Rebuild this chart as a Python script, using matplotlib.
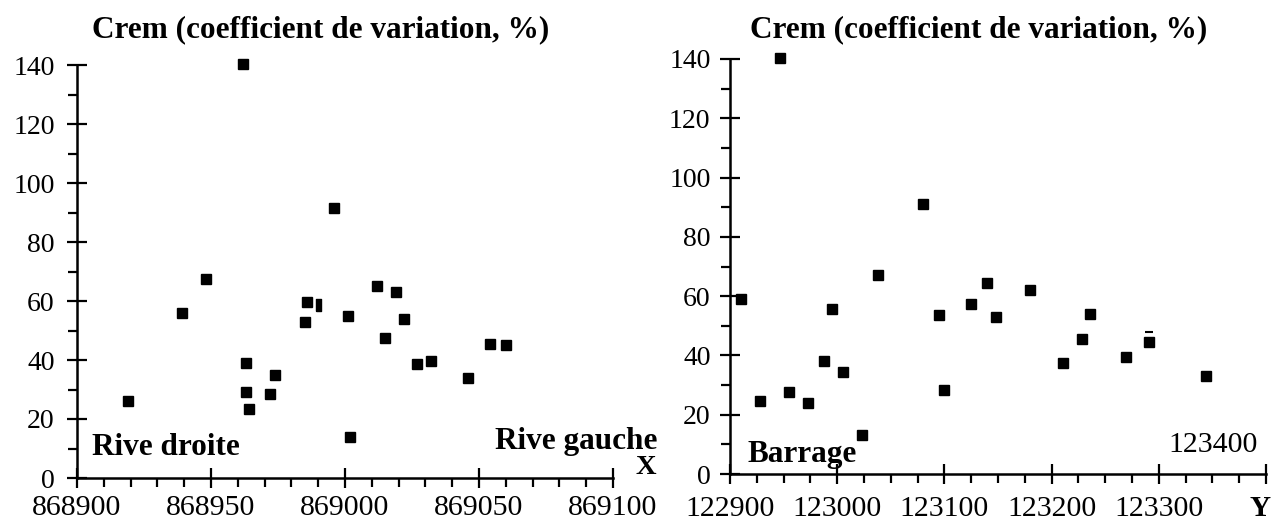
import numpy as np
import matplotlib
matplotlib.use("Agg")
import matplotlib.pyplot as plt
from matplotlib.ticker import MultipleLocator

plt.rcParams['font.family'] = ['Liberation Serif', 'DejaVu Serif']

# left panel: Crem vs X
x_left = [868919, 868939, 868948, 868962, 868963, 868963, 868964, 868972, 868974,
          868985, 868986, 868996, 869001, 869002, 869012, 869015, 869019, 869022,
          869027, 869032, 869046, 869054, 869060]
crem_left = [26, 56, 67.5, 140.5, 39, 29, 23.5, 28.5, 35,
             53, 59.5, 91.5, 55, 14, 65, 47.5, 63, 54,
             38.5, 39.5, 34, 45.5, 45]
# half-printed marker in the scan
x_left_partial = [868990]
crem_left_partial = [58.5]

# right panel: Crem vs Y
x_right = [122910, 122928, 122947, 122955, 122973, 122988, 122995, 123005, 123023,
           123038, 123080, 123095, 123100, 123125, 123140, 123148, 123180, 123211,
           123228, 123236, 123269, 123291, 123344]
crem_right = [59, 24.5, 140.5, 27.5, 24, 38, 55.5, 34.5, 13,
              67, 91, 53.5, 28.5, 57.5, 64.5, 53, 62, 37.5,
              45.5, 54, 39.5, 44.5, 33]
x_right_dash = [123291]
crem_right_dash = [48]

left_ticks = [868900, 868950, 869000, 869050, 869100]
right_ticks = [122900, 123000, 123100, 123200, 123300]
y_ticks = [0, 20, 40, 60, 80, 100, 120, 140]

title = "Crem (coefficient de variation, %)"

W, H = 1274, 524
fig = plt.figure(figsize=(W / 100, H / 100), dpi=100)


def setup_axis(ax, xmin, xmax, xminor, xpad, ypad):
    for side in ['top', 'right']:
        ax.spines[side].set_visible(False)
    for side in ['left', 'bottom']:
        ax.spines[side].set_linewidth(1.8)
    ax.set_xlim(xmin, xmax)
    ax.set_ylim(0, 140)
    ax.set_yticks(y_ticks)
    ax.yaxis.set_minor_locator(MultipleLocator(10))
    ax.xaxis.set_minor_locator(MultipleLocator(xminor))
    ax.tick_params(which='major', direction='inout', length=14, width=1.6)
    ax.tick_params(which='minor', direction='out', length=6.5, width=1.6)
    ax.tick_params(axis='y', which='major', labelsize=20, pad=ypad)
    ax.tick_params(axis='x', which='major', labelsize=21.5, pad=xpad)


ax1 = fig.add_axes([77 / W, (H - 478) / H, 536 / W, 413 / H])
setup_axis(ax1, 868900, 869100, 10, 5.5, 9)
ax1.set_xticks(left_ticks)
ax1.set_xticklabels([str(t) for t in left_ticks])
ax1.plot(x_left, crem_left, 's', color='black', ms=7.5, clip_on=False)
narrow = [(-0.45, -1), (0.45, -1), (0.45, 1), (-0.45, 1), (-0.45, -1)]
ax1.plot(x_left_partial, crem_left_partial, marker=narrow, ls='none',
         color='black', ms=8, clip_on=False)

ax2 = fig.add_axes([730 / W, (H - 474) / H, 536 / W, 415 / H])
setup_axis(ax2, 122900, 123400, 25, 8.5, 7)
ax2.set_xticks(right_ticks + [123400])
ax2.set_xticklabels([str(t) for t in right_ticks] + [''])
ax2.plot(x_right, crem_right, 's', color='black', ms=7.5, clip_on=False)
ax2.plot(x_right_dash, crem_right_dash, '_', color='black', ms=6, mew=1.5)

# titles and annotations (pixel positions from the scan)
def ftext(px, py, s, **kw):
    fig.text(px / W, 1 - py / H, s, va='baseline', **kw)

ftext(92, 37, title, fontsize=22.5, fontweight='bold')
ftext(750, 37, title, fontsize=22.5, fontweight='bold')
ftext(92, 455, "Rive droite", fontsize=22.5, fontweight='bold')
ftext(657, 449, "Rive gauche", fontsize=22.5, fontweight='bold', ha='right')
ftext(636, 474, "X", fontsize=20.5, fontweight='bold')
ftext(747, 462, "Barrage", fontsize=22.5, fontweight='bold')
ftext(1258, 452, "123400", fontsize=21.5, ha='right')
ftext(1249, 516, "Y", fontsize=21, fontweight='bold')

fig.savefig("out.png", dpi=100)
